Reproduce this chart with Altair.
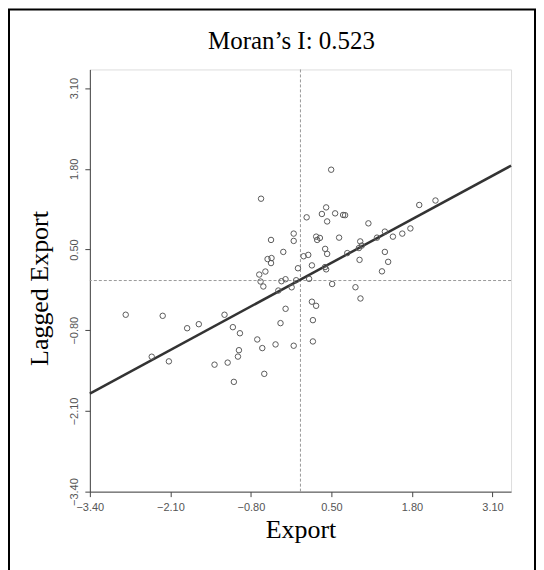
import altair as alt
import pandas as pd

export = [-0.636, 0.100, -0.109, -0.109, 0.254, 0.314, 0.270, -0.475, -0.277, -0.531,
          -0.467, -0.475, 0.051, 0.126, -0.040, 0.185, -0.566, -0.665, -0.644, -0.599,
          -0.306, -0.241, -0.142, -0.357, -0.069, 0.140, -0.240, 0.185, 0.253, -0.322,
          0.201, -2.821, -2.224, -1.226, -1.829, -1.641, -1.091, -0.977, -0.697, -0.616,
          -0.402, -0.109, 0.201, -0.993, -1.009, -2.401, -2.124, -1.387, -1.175, -0.584,
          -1.075, 0.496, 0.415, 0.346, 0.560, 0.689, 0.721, 0.431, 1.097, 0.624,
          0.399, 0.431, 0.397, 0.415, 0.512, 0.756, 0.965, 0.990, 0.944, 0.954,
          0.888, 0.969, 1.236, 1.363, 1.493, 1.644, 1.775, 1.918, 2.180, 1.363,
          1.416, 1.316]
lagged = [1.318, 1.018, 0.756, 0.638, 0.707, 0.686, 0.654, 0.654, 0.461, 0.346,
          0.362, 0.281, 0.391, 0.413, 0.198, 0.244, 0.145, 0.096, -0.016, -0.096,
          -0.011, 0.021, -0.109, -0.161, 0.005, 0.027, -0.455, -0.341, -0.407, -0.686,
          -0.638, -0.551, -0.568, -0.551, -0.768, -0.703, -0.751, -0.849, -0.949, -1.088,
          -1.029, -1.050, -0.981, -1.122, -1.225, -1.227, -1.302, -1.355, -1.322, -1.503,
          -1.632, 1.785, 1.178, 1.072, 1.082, 1.056, 1.053, 0.952, 0.921, 0.691,
          0.510, 0.429, 0.217, 0.180, -0.056, 0.442, 0.630, 0.563, 0.523, 0.333,
          -0.108, -0.289, 0.691, 0.788, 0.707, 0.756, 0.839, 1.217, 1.289, 0.461,
          0.301, 0.148]

reg_x = [-3.4, 3.4]
reg_y = [-1.82, 1.85]
tick_values = [-3.4, -2.1, -0.8, 0.5, 1.8, 3.1]
domain = [-3.4, 3.4]
title_text = "Moran\u2019s I: 0.523"
x_title = "Export"
y_title = "Lagged Export"

pts = pd.DataFrame({"x": export, "y": lagged})
reg = pd.DataFrame({"x": reg_x, "y": reg_y})
zero = pd.DataFrame({"v": [0]})
frame = pd.DataFrame({"k": [0]})
ttl = pd.DataFrame({"t": [title_text]})

serif = "Liberation Serif"
sans = "Liberation Sans"

x_axis = alt.Axis(values=tick_values, format=".2f", grid=False, title=x_title,
                  titleFont=serif, titleFontSize=26, titleFontWeight="normal",
                  titleColor="black", titlePadding=4,
                  labelFont=sans, labelFontSize=11, labelColor="#555555",
                  labelPadding=5, tickSize=5, tickColor="#444444",
                  domainColor="#444444", labelFlush=False)
y_axis = alt.Axis(values=tick_values, format=".2f", grid=False, title=y_title,
                  titleFont=serif, titleFontSize=26, titleFontWeight="normal",
                  titleColor="black", titlePadding=16, titleY=219,
                  labelFont=sans, labelFontSize=11, labelColor="#555555",
                  labelAngle=-90, labelPadding=5, tickSize=5, tickColor="#444444",
                  domainColor="#444444", labelFlush=False)

xs = alt.Scale(domain=domain, nice=False, zero=False)
ys = alt.Scale(domain=domain, nice=False, zero=False)

points = alt.Chart(pts).mark_point(shape="circle", filled=False, color="#5a5a5a",
                                   size=30, strokeWidth=1, opacity=1).encode(
    x=alt.X("x:Q", scale=xs, axis=x_axis),
    y=alt.Y("y:Q", scale=ys, axis=y_axis),
)

vline = alt.Chart(zero).mark_rule(color="#999999", strokeDash=[3, 2], strokeWidth=1).encode(
    x=alt.X("v:Q", scale=xs))
hline = alt.Chart(zero).mark_rule(color="#999999", strokeDash=[3, 2], strokeWidth=1).encode(
    y=alt.Y("v:Q", scale=ys))

line = alt.Chart(reg).mark_line(color="#333333", strokeWidth=2.5).encode(
    x=alt.X("x:Q", scale=xs), y=alt.Y("y:Q", scale=ys))

border = alt.Chart(frame).mark_rect(filled=False, stroke="black", strokeWidth=2).encode(
    x=alt.value(-81), x2=alt.value(446), y=alt.value(-60), y2=alt.value(520))

title = alt.Chart(ttl).mark_text(font=serif, fontSize=25, color="black",
                                 align="center", baseline="alphabetic").encode(
    text="t:N", x=alt.value(202), y=alt.value(-20))

chart = alt.layer(vline, hline, line, points, border, title).properties(
    width=422, height=423,
    padding=0,
).configure_view(stroke=None).configure(background="white")

chart.save("out.html", embed_options={"renderer": "svg", "actions": False})
